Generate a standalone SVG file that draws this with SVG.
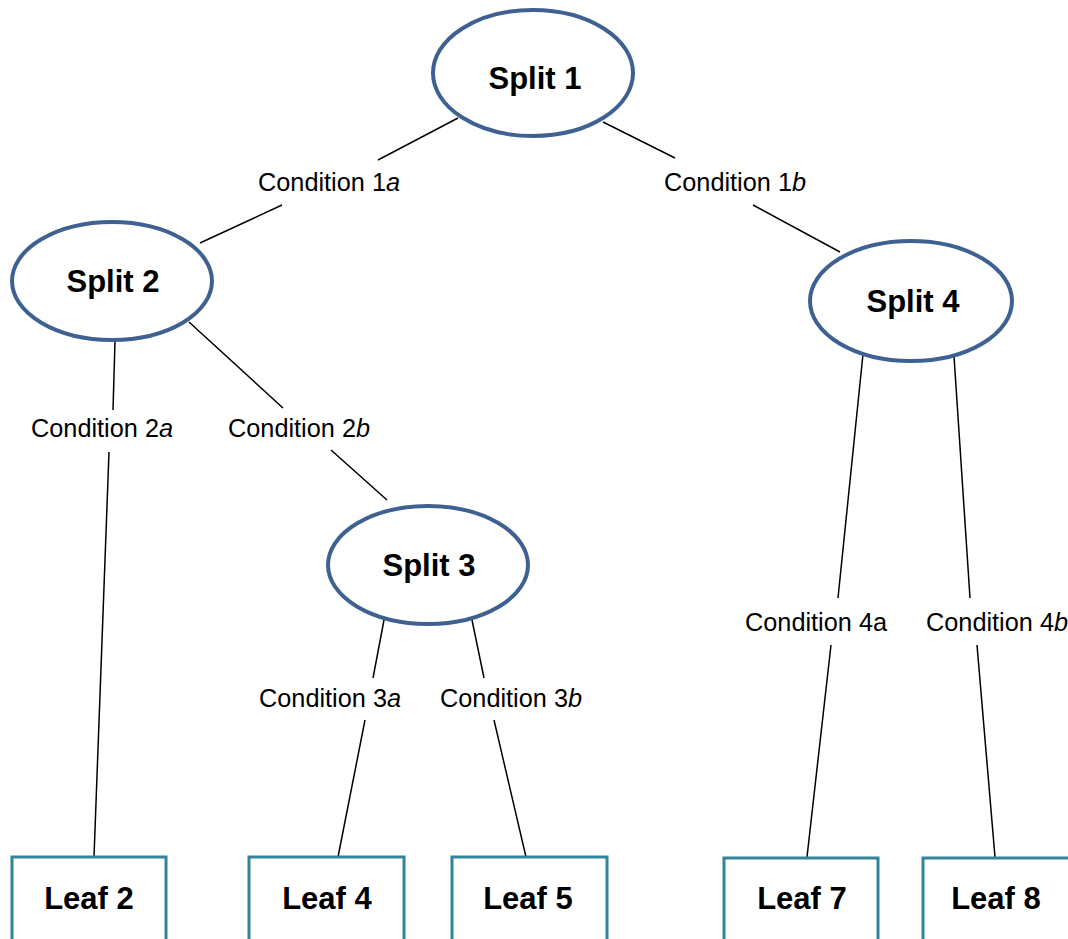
<svg xmlns="http://www.w3.org/2000/svg" width="1068" height="939" viewBox="0 0 1068 939">
<style>
.split{fill:#fff;stroke:#3F6191;stroke-width:4}
.leaf{fill:#fff;stroke:#31849B;stroke-width:3}
.t{font-family:"Liberation Sans",Arial,sans-serif;font-weight:bold;font-size:31px;text-anchor:middle;fill:#000}
.c{font-family:"Liberation Sans",Arial,sans-serif;font-size:25.3px;text-anchor:middle;fill:#000}
.ln{stroke:#000;stroke-width:1.5;fill:none}
</style>
<rect width="1068" height="939" fill="#fff"/>
<g id="connectors">
<path class="ln" d="M458,118 L378,160 M282,205 L200,243"/>
<path class="ln" d="M603,122 L675,158 M753,205 L840,252"/>
<path class="ln" d="M115,341 L113,410 M109,452 L94,857"/>
<path class="ln" d="M189,322 L283,408 M331,450 L387,500"/>
<path class="ln" d="M384,620 L373,678 M365,720 L338,857"/>
<path class="ln" d="M472,620 L484,678 M494,720 L526,857"/>
<path class="ln" d="M863,354 L838,598 M831,645 L807,857"/>
<path class="ln" d="M954,356 L970,598 M977,645 L995,857"/>
<text class="c" x="329" y="191">Condition 1<tspan font-style="italic">a</tspan></text>
<text class="c" x="735" y="191">Condition 1<tspan font-style="italic">b</tspan></text>
<text class="c" x="102" y="437">Condition 2<tspan font-style="italic">a</tspan></text>
<text class="c" x="299" y="437">Condition 2<tspan font-style="italic">b</tspan></text>
<text class="c" x="330" y="707">Condition 3<tspan font-style="italic">a</tspan></text>
<text class="c" x="511" y="707">Condition 3<tspan font-style="italic">b</tspan></text>
<text class="c" x="816" y="631">Condition 4a</text>
<text class="c" x="997" y="631">Condition 4<tspan font-style="italic">b</tspan></text>
</g>
<g id="split1"><ellipse class="split" cx="533" cy="73" rx="100" ry="63"/><text class="t" x="535" y="89">Split 1</text></g>
<g id="split2"><ellipse class="split" cx="112" cy="281" rx="100" ry="59"/><text class="t" x="113" y="292">Split 2</text></g>
<g id="split3"><ellipse class="split" cx="428" cy="565" rx="100" ry="59"/><text class="t" x="429" y="576">Split 3</text></g>
<g id="split4"><ellipse class="split" cx="911" cy="301" rx="101" ry="60"/><text class="t" x="913" y="312">Split 4</text></g>
<g id="leaf2"><rect class="leaf" x="12" y="857" width="154" height="100"/><text class="t" x="89" y="909">Leaf 2</text></g>
<g id="leaf4"><rect class="leaf" x="249" y="857" width="155" height="100"/><text class="t" x="327" y="909">Leaf 4</text></g>
<g id="leaf5"><rect class="leaf" x="452" y="857" width="155" height="100"/><text class="t" x="528" y="909">Leaf 5</text></g>
<g id="leaf7"><rect class="leaf" x="724" y="858" width="154" height="100"/><text class="t" x="802" y="909">Leaf 7</text></g>
<g id="leaf8"><rect class="leaf" x="923" y="858" width="160" height="100"/><text class="t" x="996" y="909">Leaf 8</text></g>
</svg>
